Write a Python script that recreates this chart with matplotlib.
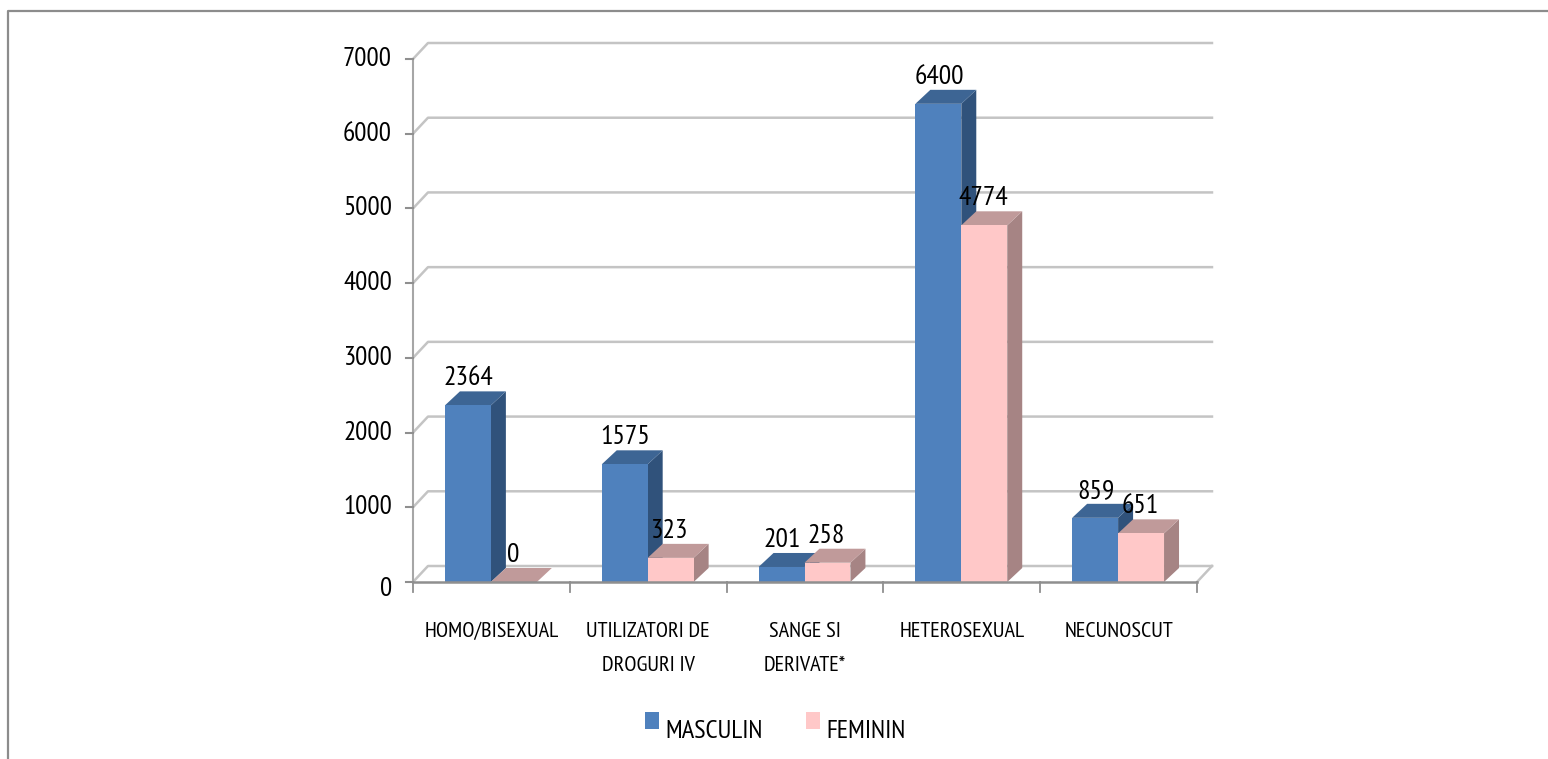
import matplotlib
matplotlib.use('Agg')
import matplotlib.pyplot as plt
from matplotlib.patches import Polygon, Rectangle
from matplotlib import font_manager as fm
import numpy as np

categories = ['HOMO/BISEXUAL', 'UTILIZATORI DE\nDROGURI IV', 'SANGE SI\nDERIVATE*', 'HETEROSEXUAL', 'NECUNOSCUT']
masculin = [2364, 1575, 201, 6400, 859]
feminin = [0, 323, 258, 4774, 651]
y_ticks = [0, 1000, 2000, 3000, 4000, 5000, 6000, 7000]

# narrow face if this machine has one
installed = {f.name for f in fm.fontManager.ttflist}
plt.rcParams['font.family'] = [n for n in ['PT Sans Narrow', 'Roboto', 'DejaVu Sans'] if n in installed]

W, H = 1548, 759
fig = plt.figure(figsize=(W / 100, H / 100), dpi=100)

# frame round the chart, in figure pixels
fig.add_artist(plt.Line2D([8 / W, 8 / W, 1], [0, 1 - 11 / H, 1 - 11 / H], color='#8c8c8c', lw=1.6))

ax = fig.add_axes([413 / W, 1 - 582 / H, (1197 - 413) / W, (582 - 59) / H])
ax.set_xlim(0, 5)
ax.set_ylim(0, 7000)
ax.axis('off')

# depth of the fake 3d, in data units
px_y = 7000 / 523.
dx = 15 / 157.
dy = 16 * px_y
bar_dx = 15 / 157.
bar_dy = 14 * px_y
bar_w = 46 / 157.
gap = 32 / 157.
grid = '#c4c4c4'

# floor / wall gridlines
for v in y_ticks:
    ax.plot([0, dx, 5 + dx], [v, v + dy, v + dy], color=grid, lw=1.8, clip_on=False, zorder=1)
ax.plot([5, 5 + dx], [0, dy], color=grid, lw=1.8, clip_on=False, zorder=1)

# axis lines and ticks
ax.plot([0, 0], [0, 7000], color='#a6a6a6', lw=1.5, clip_on=False, zorder=2)
ax.plot([0, 5], [0, 0], color='#8f8f8f', lw=1.8, clip_on=False, zorder=6)
for v in y_ticks:
    ax.plot([-7 / 157., 0], [v, v], color='#8f8f8f', lw=1.5, clip_on=False, zorder=2)
    # the bottom label sits a little under its tick in the original
    ax.annotate(str(v), (0, v), xytext=(-21, -7 if v == 0 else 0), textcoords='offset pixels',
                ha='right', va='center', fontsize=19.5, annotation_clip=False)
for i in range(6):
    ax.plot([i, i], [0, -10 * px_y], color='#8f8f8f', lw=1.3, clip_on=False, zorder=2)


def bar3d(x, v, front, top, side, z):
    ax.add_patch(Polygon([(x + bar_w, 0), (x + bar_w + bar_dx, bar_dy), (x + bar_w + bar_dx, v + bar_dy), (x + bar_w, v)],
                         fc=side, ec='none', zorder=z))
    ax.add_patch(Polygon([(x, v), (x + bar_dx, v + bar_dy), (x + bar_w + bar_dx, v + bar_dy), (x + bar_w, v)],
                         fc=top, ec='none', zorder=z))
    if v > 0:
        ax.add_patch(Rectangle((x, 0), bar_w, v, fc=front, ec='none', zorder=z + 0.1))


for i in range(5):
    x0 = i + gap
    bar3d(x0, masculin[i], '#4f81bd', '#3d6594', '#30527b', 3 + i * 0.01)
    bar3d(x0 + bar_w, feminin[i], '#ffc8c8', '#c09a9a', '#a68484', 4 + i * 0.01)
    ax.text(x0 + bar_w / 2 + 0.005, masculin[i] + bar_dy + 1 * px_y, str(masculin[i]),
            ha='center', va='bottom', fontsize=20, zorder=8)
    ax.text(x0 + bar_w * 1.5 - 0.005, feminin[i] + bar_dy + 1 * px_y, str(feminin[i]),
            ha='center', va='bottom', fontsize=20, zorder=8)
    ax.text(i + 0.5, -40 * px_y, categories[i], ha='center', va='top', fontsize=16, linespacing=2.0)

# legend
fig.add_artist(Rectangle((645 / W, 1 - 729 / H), 14 / W, 17 / H, fc='#4f81bd', ec='none', transform=fig.transFigure))
fig.add_artist(Rectangle((806 / W, 1 - 729 / H), 14 / W, 17 / H, fc='#ffc8c8', ec='none', transform=fig.transFigure))
fig.text(665 / W, 1 - 731 / H, 'MASCULIN', ha='left', va='center', fontsize=19)
fig.text(826 / W, 1 - 731 / H, 'FEMININ', ha='left', va='center', fontsize=19)

fig.savefig('out.png', dpi=100)
